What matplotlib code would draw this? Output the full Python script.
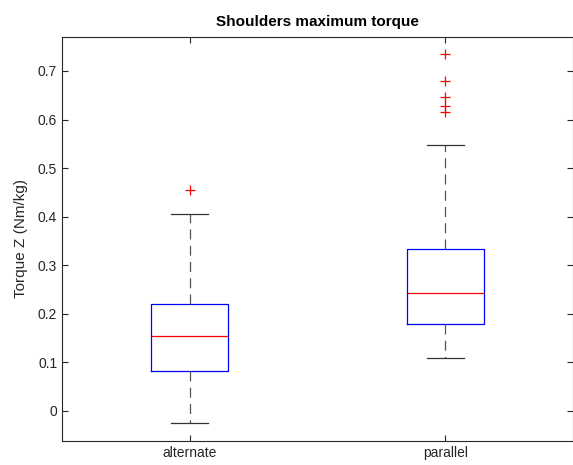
import matplotlib.pyplot as plt

plt.rcParams['font.family'] = ['Liberation Sans', 'DejaVu Sans']

groups = ["alternate", "parallel"]
q1 = [0.0817, 0.179]
median = [0.1544, 0.2423]
q3 = [0.2197, 0.3335]
whislo = [-0.024, 0.1098]
whishi = [0.406, 0.5477]
outliers = [[0.455], [0.734, 0.679, 0.647, 0.6286, 0.616]]

stats = []
for i in range(len(groups)):
    stats.append({"label": groups[i], "q1": q1[i], "med": median[i], "q3": q3[i],
                  "whislo": whislo[i], "whishi": whishi[i], "fliers": outliers[i]})

fig = plt.figure(figsize=(5.73, 4.65), dpi=100)
ax = fig.add_axes([62 / 573, 24 / 465, 511 / 573, 404 / 465])

ax.bxp(stats, widths=0.3, showfliers=True,
       boxprops=dict(color="blue", linewidth=0.9),
       medianprops=dict(color="red", linewidth=0.9),
       whiskerprops=dict(color="#555555", linewidth=0.9, linestyle=(0, (8, 5))),
       capprops=dict(color="#333333", linewidth=0.9),
       flierprops=dict(marker="+", markeredgecolor="red", markersize=7, markeredgewidth=0.9),
       capwidths=0.146)

ax.set_xlim(0.5, 2.5)
ax.set_ylim(-0.062, 0.77)
ax.set_yticks([0, 0.1, 0.2, 0.3, 0.4, 0.5, 0.6, 0.7])
ax.set_yticklabels(["0", "0.1", "0.2", "0.3", "0.4", "0.5", "0.6", "0.7"])
ax.tick_params(direction="in", top=True, right=True, labelsize=10, colors="#262626", length=4)
for s in ax.spines.values():
    s.set_color("#262626")
    s.set_linewidth(0.8)
ax.set_ylabel("Torque Z (Nm/kg)", fontsize=11, color="#262626", labelpad=7)
ax.set_title("Shoulders maximum torque", fontsize=11, fontweight="bold", pad=8)

fig.savefig("out.png", dpi=100)
